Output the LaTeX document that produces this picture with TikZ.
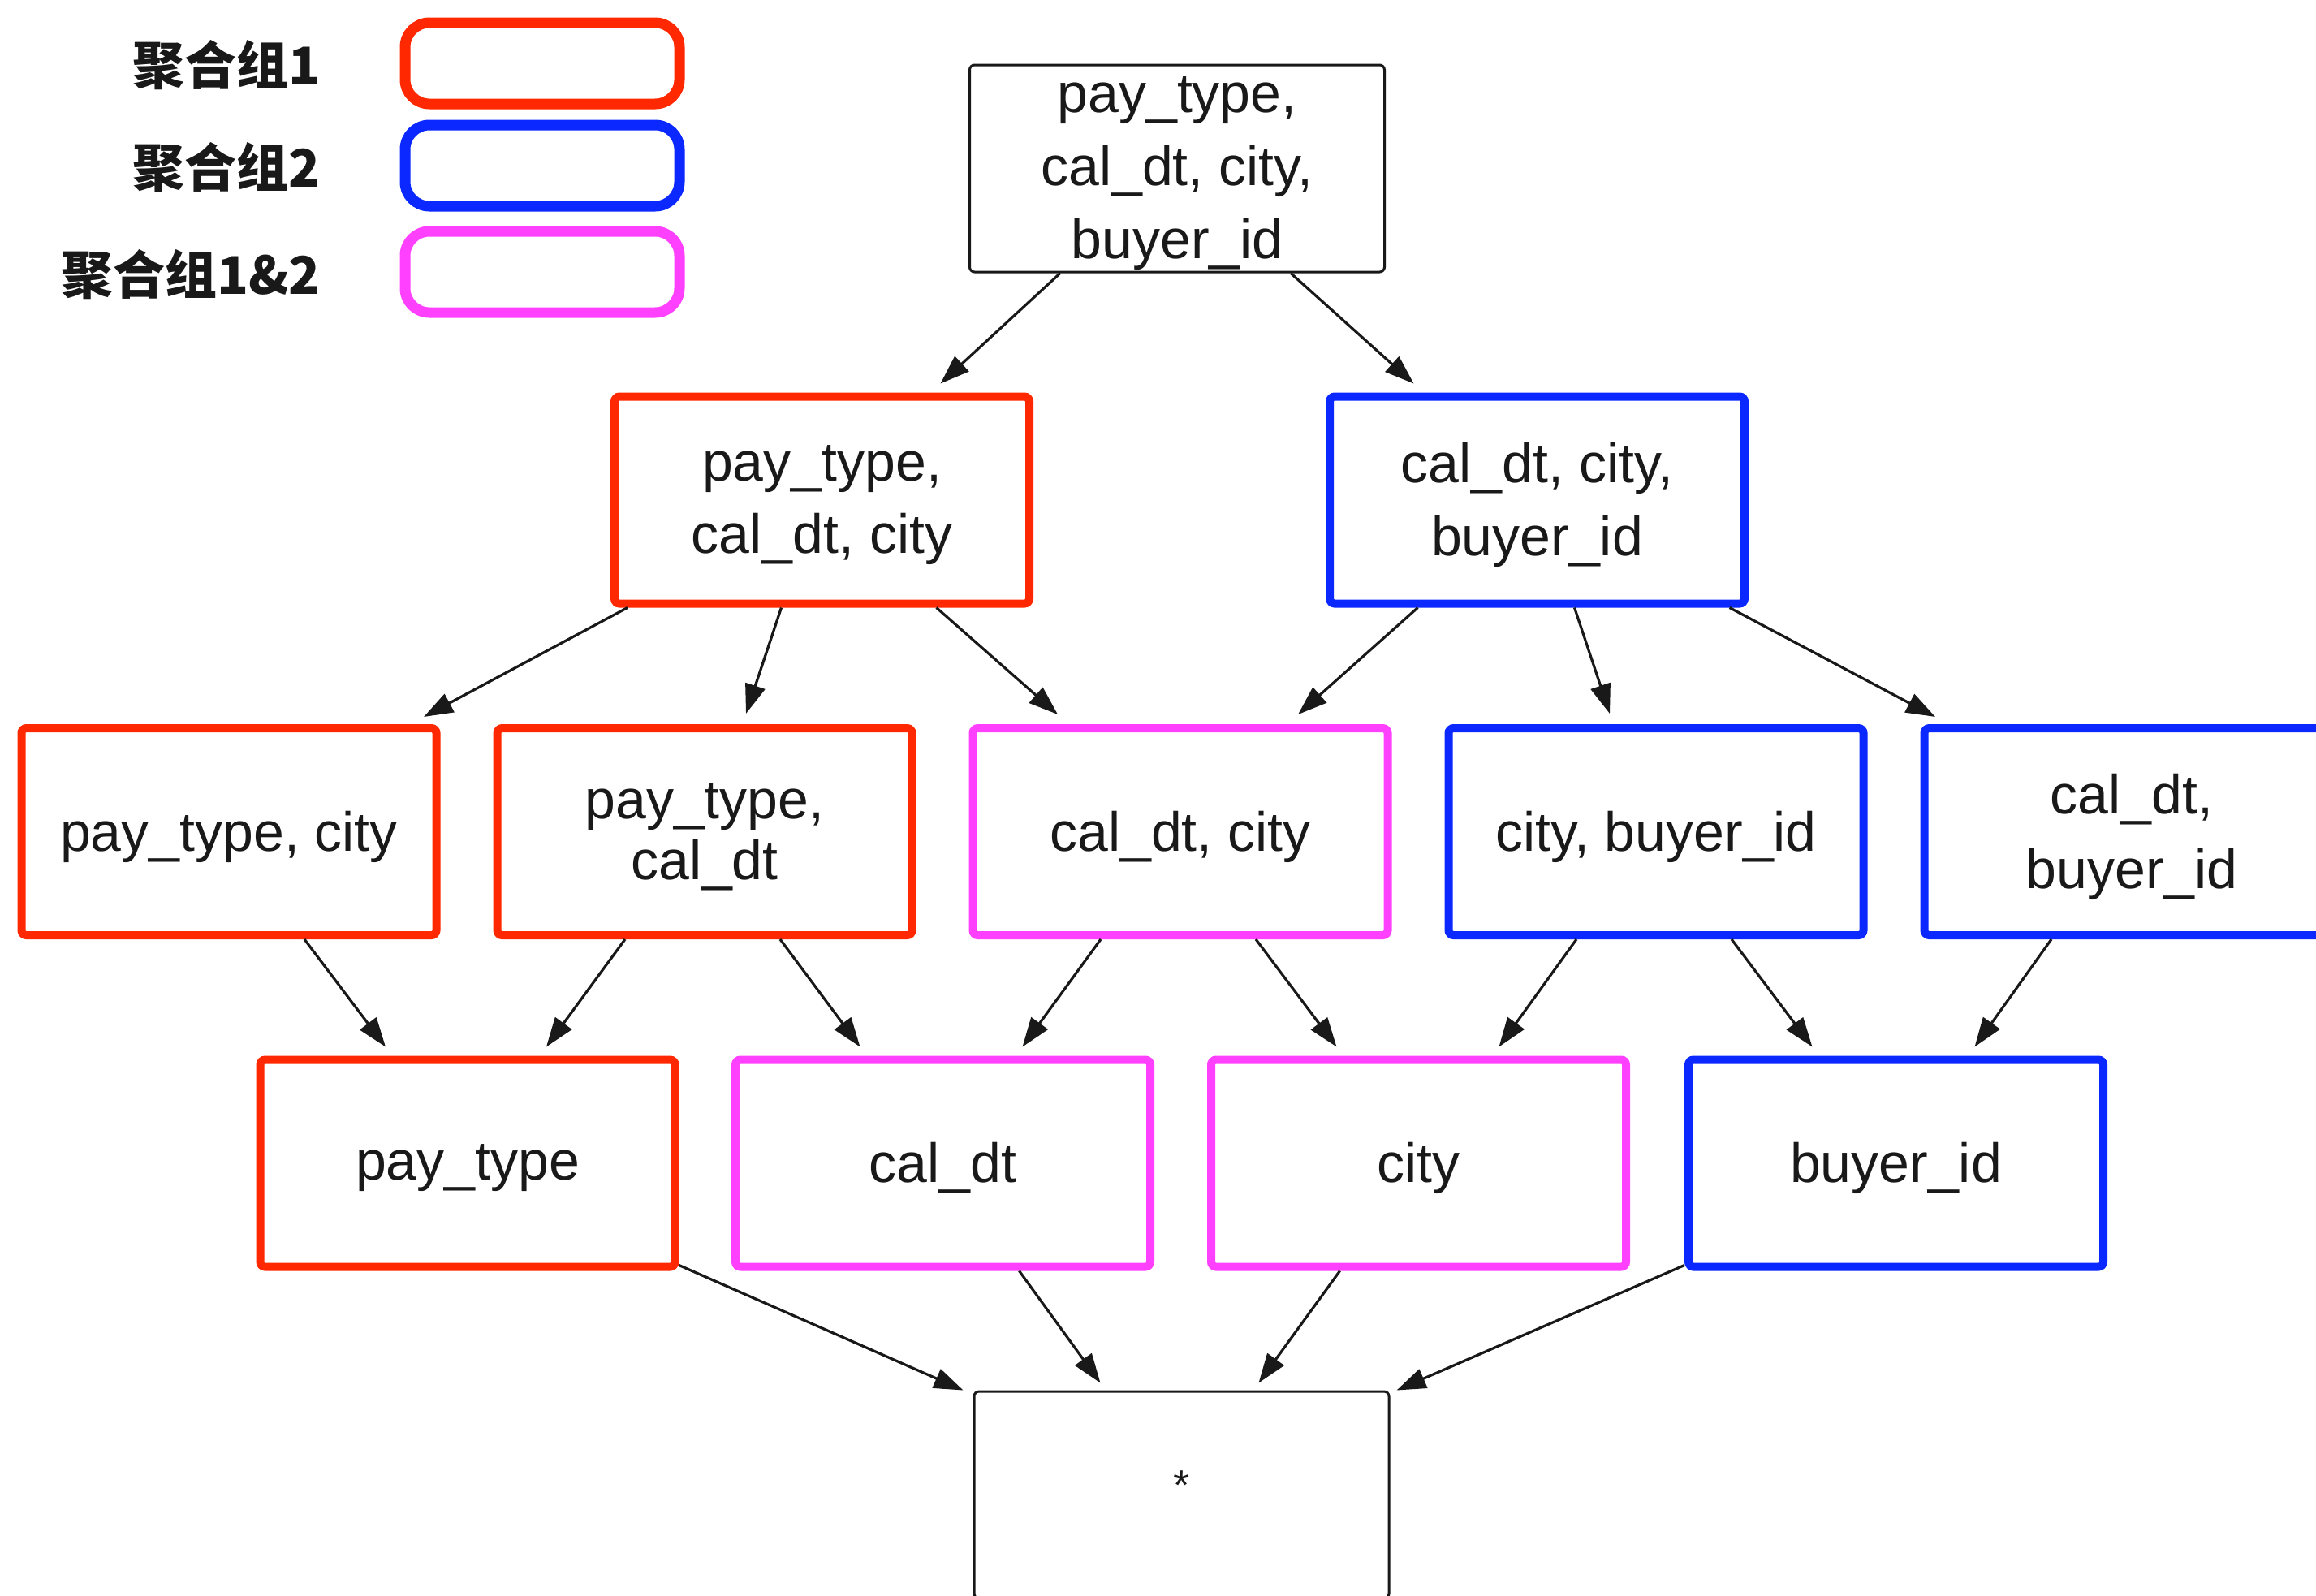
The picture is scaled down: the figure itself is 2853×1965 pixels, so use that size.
\documentclass[tikz,border=0pt]{standalone}
\usepackage{fontspec}
\setmainfont{Liberation Sans}
\newfontfamily\cjk{Noto Sans CJK SC}
\usetikzlibrary{arrows.meta,calc}
\definecolor{gred}{RGB}{255,40,0}
\definecolor{gblue}{RGB}{10,40,255}
\definecolor{gmag}{RGB}{255,64,255}
\definecolor{ink}{RGB}{25,25,25}
\newcommand\lowr[1]{\raisebox{-3pt}[\height][\depth]{#1}}
\begin{document}
\begin{tikzpicture}[x=0.5pt,y=-0.5pt,
  box/.style={draw, rectangle, minimum width=255.5pt, minimum height=127.5pt, inner sep=0pt, align=center, font=\fontsize{34}{44.8}\selectfont, text=ink},
  plainbox/.style={box, draw=ink, line width=1.5pt, rounded corners=3pt},
  gone/.style={box, draw=gred, line width=5pt, rounded corners=3pt},
  gtwo/.style={box, draw=gblue, line width=5pt, rounded corners=3pt},
  gboth/.style={box, draw=gmag, line width=5pt, rounded corners=3pt},
  leg/.style={draw, rectangle, minimum width=169pt, minimum height=50pt, line width=6.5pt, rounded corners=15pt, inner sep=0pt},
  legtext/.style={anchor=east, font=\cjk\bfseries\fontsize{32}{36}\selectfont, text=ink, inner sep=0pt},
  arr/.style={draw=ink, line width=1.6pt, -{Triangle[length=18pt,width=12.5pt]}},
]
\useasboundingbox (0,0) rectangle (2853,1965);
\clip (0,0) rectangle (2853,1965);

% legend
\node[legtext] (l1) at (395,80) {聚合组1};
\node[legtext] (l2) at (395,206) {聚合组2};
\node[legtext] (l3) at (395,338) {聚合组1\&2};
\node[leg, draw=gred] (k1) at (668,78) {};
\node[leg, draw=gblue] (k2) at (668,204) {};
\node[leg, draw=gmag] (k3) at (668,335) {};

% nodes
\node[plainbox] (top) at (1450,207.5) {\lowr{pay\_type,}\\\lowr{cal\_dt, city,}\\\lowr{buyer\_id}};
\node[gone] (ra) at (1012.5,616) {\lowr{pay\_type,}\\\lowr{cal\_dt, city}};
\node[gtwo] (rb) at (1893.5,616) {\lowr{cal\_dt, city,}\\\lowr{buyer\_id}};

\node[gone] (c1) at (282,1024.5) {\lowr{pay\_type, city}};
\node[gone, font=\fontsize{34}{37.5}\selectfont] (c2) at (868,1024.5) {\lowr{pay\_type,}\\\lowr{cal\_dt}};
\node[gboth] (c3) at (1454,1024.5) {\lowr{cal\_dt, city}};
\node[gtwo] (c4) at (2040,1024.5) {\lowr{city, buyer\_id}};
\node[gtwo, font=\fontsize{34}{46}\selectfont] (c5) at (2626,1024.5) {\lowr{cal\_dt,}\\\lowr{buyer\_id}};

\node[gone] (d1) at (576,1433) {\lowr{pay\_type}};
\node[gboth] (d2) at (1161.5,1433) {\lowr{cal\_dt}};
\node[gboth] (d3) at (1747.5,1433) {\lowr{city}};
\node[gtwo] (d4) at (2335.5,1433) {\lowr{buyer\_id}};

\node[plainbox, font=\fontsize{26}{30}\selectfont] (bot) at (1455.5,1841.5) {\raisebox{6pt}[\height][\depth]{*}};

% connectors
\draw[arr] ($(top.south)+(-144,0)$) -- ($(ra.north)+(146,-11)$);
\draw[arr] ($(top.south)+(140,0)$) -- ($(rb.north)+(-152,-11)$);

\draw[arr] ($(ra.south)+(-239.5,0)$) -- ($(c1.north)+(240,-9)$);
\draw[arr] ($(ra.south)+(-50,0)$) -- ($(c2.north)+(51,-13)$);
\draw[arr] ($(ra.south)+(141,0)$) -- ($(c3.north)+(-151,-12)$);
\draw[arr] ($(rb.south)+(-147,0)$) -- ($(c3.north)+(145,-12)$);
\draw[arr] ($(rb.south)+(46,0)$) -- ($(c4.north)+(-57,-13)$);
\draw[arr] ($(rb.south)+(237,0)$) -- ($(c5.north)+(-242,-9)$);

\draw[arr] ($(c1.south)+(93,0)$) -- ($(d1.north)+(-101,-11)$);
\draw[arr] ($(c2.south)+(-98,0)$) -- ($(d1.north)+(97,-11)$);
\draw[arr] ($(c2.south)+(93,0)$) -- ($(d2.north)+(-102,-11)$);
\draw[arr] ($(c3.south)+(-98,0)$) -- ($(d2.north)+(98,-11)$);
\draw[arr] ($(c3.south)+(93,0)$) -- ($(d3.north)+(-101,-11)$);
\draw[arr] ($(c4.south)+(-98,0)$) -- ($(d3.north)+(99,-11)$);
\draw[arr] ($(c4.south)+(93,0)$) -- ($(d4.north)+(-103,-11)$);
\draw[arr] ($(c5.south)+(-99,0)$) -- ($(d4.north)+(97,-11)$);

\draw[arr] ($(d1.south east)+(0,-7)$) -- ($(bot.north west)+(-12,0)$);
\draw[arr] ($(d2.south)+(94,0)$) -- ($(bot.north)+(-100,-9)$);
\draw[arr] ($(d3.south)+(-97,0)$) -- ($(bot.north)+(95,-9)$);
\draw[arr] ($(d4.south west)+(0,-7)$) -- ($(bot.north east)+(8,0)$);
\end{tikzpicture}
\end{document}
